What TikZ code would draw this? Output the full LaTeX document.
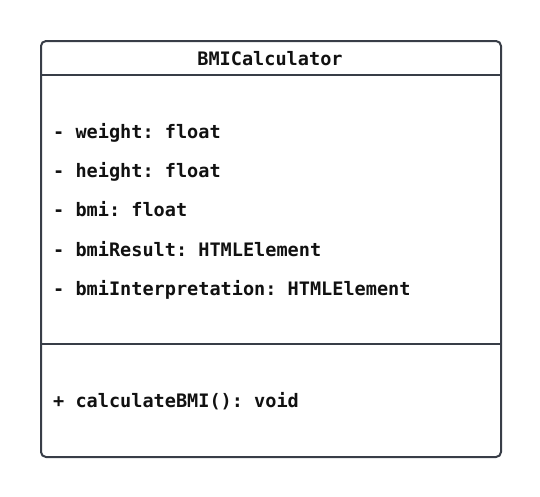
\documentclass[tikz,border=0pt]{standalone}
\usepackage{fontspec}
\setmonofont{DejaVu Sans Mono}
\usepackage{tikz}
\usetikzlibrary{positioning,calc}
\definecolor{umlline}{HTML}{383D47}
\definecolor{umltext}{HTML}{111111}

\begin{document}
\begin{tikzpicture}[
x=1pt,y=-1pt,
classbox/.style={draw=umlline,line width=2pt,rounded corners=5pt,
minimum width=460pt,minimum height=416pt,anchor=north west,inner sep=0pt},
sepline/.style={draw=umlline,line width=2pt},
member/.style={anchor=base west,inner sep=0pt,text=umltext,
font=\ttfamily\bfseries\fontsize{18.55}{22}\selectfont},
title/.style={anchor=base,inner sep=0pt,text=umltext,
font=\ttfamily\bfseries\fontsize{18.55}{22}\selectfont}
]
\useasboundingbox (0,0) rectangle (540,496);
\node[classbox] (bmicalc) at (40,40) {};
\node[title] (name) at (270,65) {BMICalculator};

% compartments
\coordinate (sepA) at (0,75);
\coordinate (sepB) at (0,344);
\draw[sepline] (bmicalc.west |- sepA) -- (bmicalc.east |- sepA);
\draw[sepline] (bmicalc.west |- sepB) -- (bmicalc.east |- sepB);

% attributes
\node[member] (weight) at (53,138.2) {- weight: float};
\node[member] (height) at (53,177.5) {- height: float};
\node[member] (bmi) at (53,216.8) {- bmi: float};
\node[member] (result) at (53,256.1) {- bmiResult: HTMLElement};
\node[member] (interp) at (53,295.4) {- bmiInterpretation: HTMLElement};

% operations
\node[member] (calc) at (53,407.2) {+ calculateBMI(): void};
\end{tikzpicture}
\end{document}
